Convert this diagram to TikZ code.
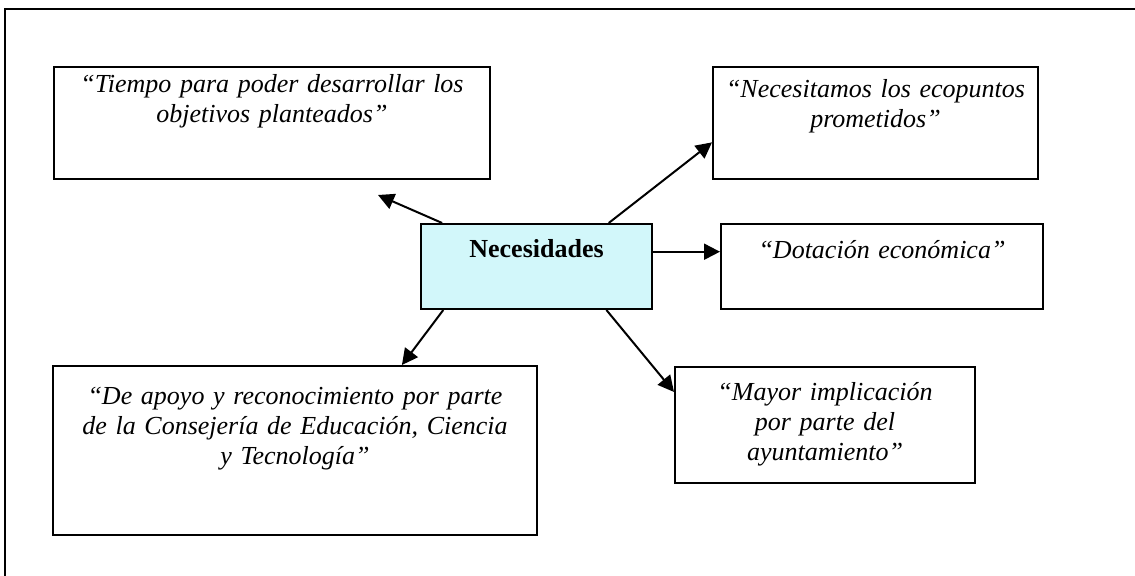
\documentclass[tikz,border=0pt]{standalone}
\usepackage{fontspec}
\setmainfont{Liberation Serif}
\usetikzlibrary{calc,arrows.meta}
\definecolor{necInk}{HTML}{000000}
\definecolor{necCyan}{HTML}{D2F7FA}

\begin{document}
\begin{tikzpicture}[
    x=0.5pt, y=-0.5pt,
    nec frame/.style={draw=necInk, line width=1.2pt},
    nec box/.style={draw=necInk, line width=1pt, rectangle, inner sep=0pt},
    nec text/.style={text=necInk, font=\fontsize{13}{15}\selectfont\itshape, inner sep=0pt, align=center, anchor=base},
    nec title/.style={text=necInk, font=\fontsize{13}{15}\selectfont\bfseries, inner sep=0pt, anchor=base},
    nec arrow/.style={draw=necInk, line width=1pt, -{Triangle[length=8pt,width=8pt]}},
]
  \useasboundingbox (0,0) rectangle (1135,576);

  % Marco.
  \draw[nec frame] (5,576) -- (5,9) -- (1135,9);

  % Cajas.
  \node[nec box, fill=necCyan, minimum width=115.5pt, minimum height=42.5pt] (nec) at (536.5,266.5) {};
  \node[nec box, minimum width=218pt, minimum height=56pt] (tiempo) at (272,123) {};
  \node[nec box, minimum width=162.5pt, minimum height=56pt] (ecopuntos) at (875.5,123) {};
  \node[nec box, minimum width=161pt, minimum height=42.5pt] (dotacion) at (882,266.5) {};
  \node[nec box, minimum width=150pt, minimum height=58pt] (mayor) at (825,425) {};
  \node[nec box, minimum width=242pt, minimum height=84.5pt] (apoyo) at (295,450.5) {};
  \coordinate (fin-tiempo) at (378,195);

  % Flechas.
  \draw[nec arrow] ($(nec.north west)!0.095!(nec.north east)$) -- (fin-tiempo);
  \draw[nec arrow] ($(nec.north west)!0.81!(nec.north east)$) -- ($(ecopuntos.north west)!0.67!(ecopuntos.south west)$);
  \draw[nec arrow] ($(nec.north east)!0.33!(nec.south east)$) -- ($(dotacion.north west)!0.33!(dotacion.south west)$);
  \draw[nec arrow] ($(nec.south west)!0.80!(nec.south east)$) -- ($(mayor.north west)!0.22!(mayor.south west)$);
  \draw[nec arrow] ($(nec.south west)!0.10!(nec.south east)$) -- ($(apoyo.north west)!0.72!(apoyo.north east)$);

  % Textos.
  \node[nec title] (t-nec) at ($(nec.north)+(0,35)$) {Necesidades};
  \node[nec text, text width=218pt] (t-tiempo) at ($(tiempo.north)+(0,27)$) {“Tiempo para poder desarrollar los\\ objetivos planteados”};
  \node[nec text, text width=162.5pt] (t-ecopuntos) at ($(ecopuntos.north)+(0,32)$) {“Necesitamos los ecopuntos\\ prometidos”};
  \node[nec text, text width=161pt] (t-dotacion) at ($(dotacion.north)+(0,36)$) {“Dotación económica”};
  \node[nec text, text width=150pt] (t-mayor) at ($(mayor.north)+(0,35)$) {“Mayor implicación\\ por parte del\\ ayuntamiento”};
  \node[nec text, text width=242pt] (t-apoyo) at ($(apoyo.north)+(0,40)$) {“De apoyo y reconocimiento por parte\\ de la Consejería de Educación, Ciencia\\ y Tecnología”};
\end{tikzpicture}
\end{document}
